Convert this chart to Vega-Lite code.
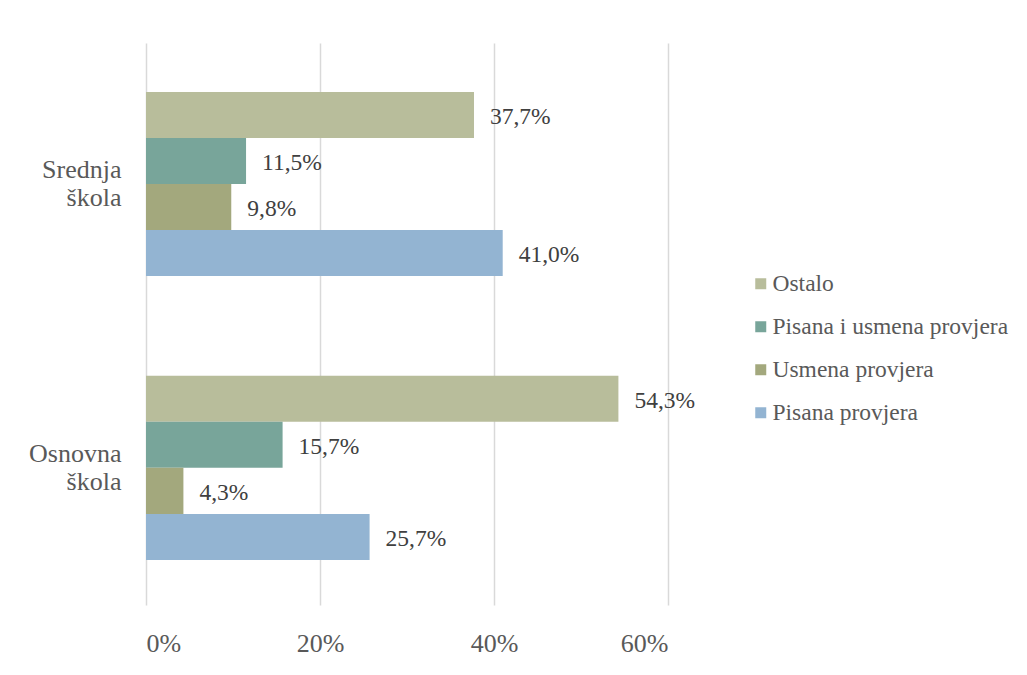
{
  "$schema": "https://vega.github.io/schema/vega-lite/v6.json",
  "width": 522,
  "height": 562,
  "autosize": {"type": "none"},
  "padding": {"left": 146, "top": 43, "right": 359, "bottom": 70},
  "background": "white",
  "config": {
    "view": {"stroke": null},
    "font": "Liberation Serif",
    "locale": {"number": {"decimal": ",", "thousands": ".", "grouping": [3], "currency": ["", " €"]}}
  },
  "data": {
    "values": [
      {"skola": "Srednja škola", "vrsta": "Ostalo", "udio": 0.377},
      {"skola": "Srednja škola", "vrsta": "Pisana i usmena provjera", "udio": 0.115},
      {"skola": "Srednja škola", "vrsta": "Usmena provjera", "udio": 0.098},
      {"skola": "Srednja škola", "vrsta": "Pisana provjera", "udio": 0.410},
      {"skola": "Osnovna škola", "vrsta": "Ostalo", "udio": 0.543},
      {"skola": "Osnovna škola", "vrsta": "Pisana i usmena provjera", "udio": 0.157},
      {"skola": "Osnovna škola", "vrsta": "Usmena provjera", "udio": 0.043},
      {"skola": "Osnovna škola", "vrsta": "Pisana provjera", "udio": 0.257}
    ]
  },
  "encoding": {
    "y": {
      "field": "skola", "type": "nominal",
      "sort": ["Srednja škola", "Osnovna škola"],
      "scale": {"paddingInner": 0.352, "paddingOuter": 0.1655, "align": 0.52},
      "axis": {
        "title": null, "domain": false, "ticks": false, "labelPadding": 25,
        "labelFontSize": 26, "labelColor": "#595959", "labelLineHeight": 28,
        "labelAlign": "right", "labelOffset": -14,
        "labelExpr": "split(datum.label, ' ')"
      }
    },
    "yOffset": {
      "field": "vrsta", "type": "nominal",
      "sort": ["Ostalo", "Pisana i usmena provjera", "Usmena provjera", "Pisana provjera"],
      "scale": {"paddingInner": 0, "paddingOuter": 0}
    },
    "x": {
      "field": "udio", "type": "quantitative",
      "scale": {"domain": [0, 0.6], "nice": false},
      "axis": {
        "title": null, "format": ".0%", "values": [0, 0.2, 0.4, 0.6],
        "domain": false, "ticks": false, "labelPadding": 25,
        "labelFontSize": 26, "labelColor": "#595959",
        "grid": true, "gridColor": "#d9d9d9", "gridWidth": 1.5
      }
    }
  },
  "layer": [
    {
      "mark": {"type": "bar"},
      "encoding": {
        "color": {
          "field": "vrsta", "type": "nominal",
          "sort": ["Ostalo", "Pisana i usmena provjera", "Usmena provjera", "Pisana provjera"],
          "scale": {
            "domain": ["Ostalo", "Pisana i usmena provjera", "Usmena provjera", "Pisana provjera"],
            "range": ["#b8bd9b", "#78a59a", "#a3a87d", "#93b4d2"]
          },
          "legend": {
            "title": null, "orient": "none", "legendX": 603, "legendY": 229,
            "symbolType": "square", "symbolSize": 121, "symbolStrokeWidth": 0,
            "labelFontSize": 23.5, "labelColor": "#595959", "labelOffset": 0,
            "rowPadding": 18, "labelLimit": 400
          }
        }
      }
    },
    {
      "mark": {"type": "text", "align": "left", "baseline": "middle", "dx": 16, "dy": 2, "fontSize": 23.5, "color": "#404040"},
      "encoding": {
        "text": {"field": "udio", "type": "quantitative", "format": ".1%"}
      }
    }
  ]
}
